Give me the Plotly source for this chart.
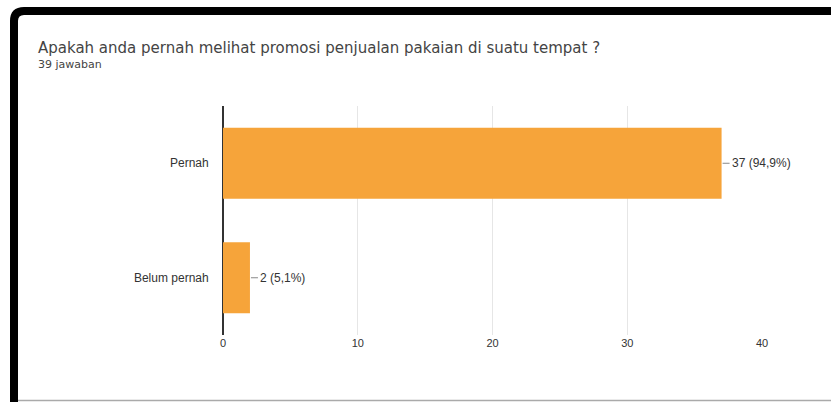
import plotly.graph_objects as go

# Survey question and response summary
title_text = "Apakah anda pernah melihat promosi penjualan pakaian di suatu tempat ?"
subtitle_text = "39 jawaban"

categories = ["Pernah", "Belum pernah"]
counts = [37, 2]
percent_labels = ["94,9%", "5,1%"]
x_ticks = [0, 10, 20, 30, 40]

W, H = 831, 402
L, R, T, B = 223, 762, 106, 335

BAR_COLOR = "#F6A43A"
TEXT_COLOR = "#333333"
FONT = "Liberation Sans, Arial, sans-serif"

fig = go.Figure(
    go.Bar(
        x=counts,
        y=categories,
        orientation="h",
        marker=dict(color=BAR_COLOR, line=dict(width=0)),
        width=0.62,
        hoverinfo="skip",
    )
)


def px_x(p):
    return (p - L) / (R - L)


def px_y(p):
    return (B - p) / (B - T)


# Value labels with short leader lines
for cat, n, pct in zip(categories, counts, percent_labels):
    fig.add_annotation(
        x=n, y=cat, xref="x", yref="y",
        text=f"{n} ({pct})",
        showarrow=True, arrowhead=0, arrowwidth=1, arrowcolor="#888888",
        ax=8, ay=0, xanchor="left", standoff=1,
        font=dict(family=FONT, size=12, color=TEXT_COLOR),
    )

# Title and response count
fig.add_annotation(
    x=px_x(36), y=px_y(48), xref="paper", yref="paper",
    text=title_text, showarrow=False, xanchor="left", yanchor="middle",
    font=dict(family="DejaVu Sans, sans-serif", size=15, color="#444444"),
)
fig.add_annotation(
    x=px_x(36), y=px_y(65), xref="paper", yref="paper",
    text=subtitle_text, showarrow=False, xanchor="left", yanchor="middle",
    font=dict(family="DejaVu Sans, sans-serif", size=11, color="#444444"),
)

# Frame: thick black top/left edge with a rounded corner, thin grey bottom rule
r = 10
x0, y0 = 14, 11
path = (
    f"M {px_x(x0)},{px_y(H + 5)} L {px_x(x0)},{px_y(y0 + r)} "
    f"Q {px_x(x0)},{px_y(y0)} {px_x(x0 + r)},{px_y(y0)} L {px_x(W + 5)},{px_y(y0)}"
)
fig.add_shape(type="path", path=path, xref="paper", yref="paper",
              line=dict(color="black", width=8))
fig.add_shape(type="line", xref="paper", yref="paper",
              x0=px_x(18), x1=px_x(W), y0=px_y(400.5), y1=px_y(400.5),
              line=dict(color="#aaaaaa", width=1.5))

fig.update_layout(
    width=W, height=H,
    margin=dict(l=L, r=W - R, t=T, b=H - B, pad=0),
    paper_bgcolor="white", plot_bgcolor="white",
    showlegend=False,
    bargap=0.38,
    xaxis=dict(
        range=[0, 40], tickvals=x_ticks, showgrid=True, gridcolor="#e6e6e6",
        gridwidth=1, zeroline=True, zerolinecolor="#333333", zerolinewidth=1.5,
        showline=False, ticks="",
        tickfont=dict(family=FONT, size=11, color=TEXT_COLOR),
    ),
    yaxis=dict(
        autorange="reversed", showgrid=False, showline=False, ticks="",
        ticksuffix="    ",
        tickfont=dict(family=FONT, size=12, color=TEXT_COLOR),
    ),
)

fig.write_html("out.html")
